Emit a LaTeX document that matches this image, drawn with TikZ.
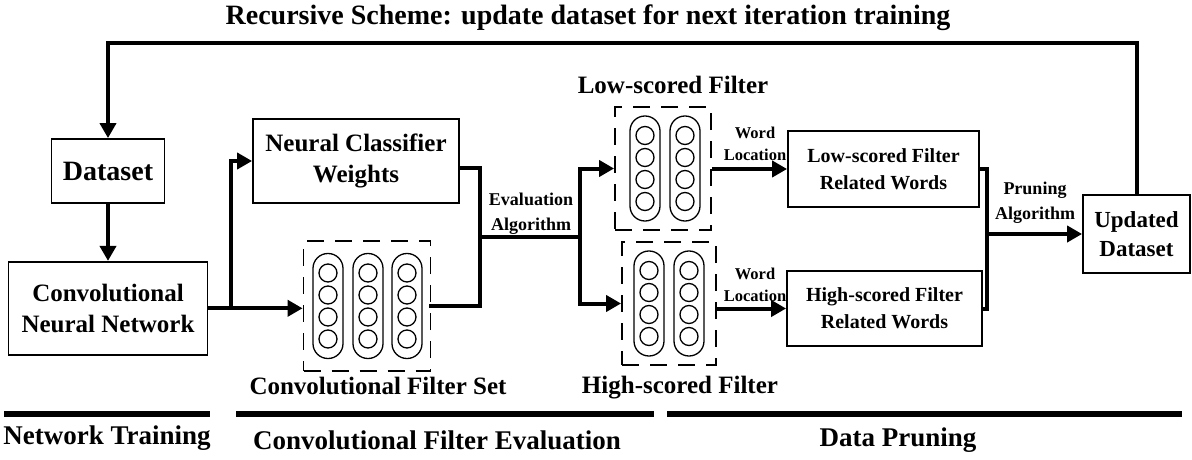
\documentclass[tikz,border=0pt]{standalone}
\usepackage{fontspec}
\setmainfont{Liberation Serif}
\usetikzlibrary{arrows.meta, positioning}

\begin{document}
\begin{tikzpicture}[x=1pt, y=-1pt,
blank/.style={inner sep=0pt, align=center, font=\bfseries\fontsize{25}{31}\selectfont},
blank-big/.style={blank, font=\bfseries\fontsize{27}{33}\selectfont},
blank-small/.style={blank, font=\bfseries\fontsize{18}{25}\selectfont},
blank-tiny/.style={blank, font=\bfseries\fontsize{16.5}{22}\selectfont},
block/.style={rectangle, draw=black, line width=1.8pt, align=center, inner sep=0pt,
font=\bfseries\fontsize{25}{31}\selectfont},
block-words/.style={block, font=\bfseries\fontsize{20}{27}\selectfont},
filter-box/.style={rectangle, draw=black, line width=1.8pt, dash pattern=on 17pt off 11pt, inner sep=0pt},
pill/.style={rectangle, draw=black, line width=1.3pt, rounded corners=14.9pt,
minimum width=30pt, minimum height=105pt, inner sep=0pt},
cell/.style={circle, draw=black, line width=1.3pt, minimum size=18pt, inner sep=0pt},
line/.style={draw, line width=4pt, -{Triangle[length=15pt, width=16pt]}},
wire/.style={draw, line width=4pt, line cap=rect},
bar/.style={draw, line width=6.5pt}
]
\useasboundingbox (0,0) rectangle (1192,460);

\node [block, minimum width=113pt, minimum height=64pt, font=\bfseries\fontsize{28}{34}\selectfont] (data) at (108,171) {Dataset};
\node [block, minimum width=199pt, minimum height=93pt, below=57pt of data] (cnn) {Convolutional\\Neural Network};
\node [block, minimum width=206pt, minimum height=84pt] (ncw) at (356,161) {Neural Classifier\\Weights};
\node [filter-box, minimum width=127pt, minimum height=130pt] (fset) at (367,306) {};
\node [filter-box, minimum width=96pt, minimum height=123pt] (lowf) at (663,168.5) {};
\node [filter-box, minimum width=94pt, minimum height=123pt] (highf) at (669,303.5) {};
\node [block-words, minimum width=191pt, minimum height=76pt] (lsw) at (883.5,169) {Low-scored Filter\\Related Words};
\node [block-words, minimum width=195pt, minimum height=75pt] (hsw) at (884.5,308.5) {High-scored Filter\\Related Words};
\node [block, minimum width=107pt, minimum height=78pt, font=\bfseries\fontsize{23}{29}\selectfont] (upd) at (1136.5,234) {Updated\\Dataset};

% filters
\foreach \b/\l in {fset/{-39,1,40}, lowf/{-18,22}, highf/{-20,20}} {
  \foreach \dx in \l {
    \node [pill] at ([xshift=\dx pt]\b.center) {};
    \foreach \dy in {-33,-11,11,33}
      \node [cell] at ([xshift=\dx pt, yshift=\dy pt]\b.center) {};
  }
}

% labels
\node [blank, font=\bfseries\fontsize{28}{34}\selectfont] (title) at (588,18) {Recursive Scheme: update dataset for next iteration training};
\node [blank] (fset-lbl) at (378,386) {Convolutional Filter Set};
\node [blank] (lowf-lbl) at (673,85) {Low-scored Filter};
\node [blank] (highf-lbl) at (680,388) {High-scored Filter};
\node [blank-small] (eval-lbl) at (531,214) {Evaluation\\Algorithm};
\node [blank-small] (prune-lbl) at (1035,203) {Pruning\\Algorithm};
\node [blank-tiny] (word-low) at (755,144) {Word\\Location};
\node [blank-tiny] (word-high) at (755,285) {Word\\Location};
\node [blank-big] (stage-train) at (107,438) {Network Training};
\node [blank-big] (stage-eval) at (437,440) {Convolutional Filter Evaluation};
\node [blank-big] (stage-prune) at (898,440) {Data Pruning};

% connectors
\coordinate (loop) at (108,43);
\coordinate (split) at ([xshift=23pt]cnn.east);
\coordinate (ev-merge) at (480,237);
\coordinate (ev-split) at (580,237);
\coordinate (pr-merge) at (987,234);

\path [line] (upd.north) |- (loop) -- (data.north);
\path [line] (data) -- (cnn);
\path [line] (cnn.east) -- (cnn.east -| fset.west);
\path [line] (split) |- (ncw.west);
\path [wire] (fset.east) -| (ev-merge) |- ([yshift=-7pt]ncw.east);
\path [wire] (ev-merge) -- (ev-split);
\path [line] (ev-split) |- (lowf.west);
\path [line] (ev-split) |- (highf.west);
\path [line] (lowf.east |- lsw.west) -- (lsw.west);
\path [line] (highf.east |- hsw.west) -- (hsw.west);
\path [wire] (lsw.east) -| (pr-merge) |- (hsw.east);
\path [line] (pr-merge) -- (pr-merge -| upd.west);

% stages
\path [bar] (4,414) -- (210,414);
\path [bar] (236,414) -- (654,414);
\path [bar] (667,414) -- (1182,414);

\end{tikzpicture}
\end{document}
